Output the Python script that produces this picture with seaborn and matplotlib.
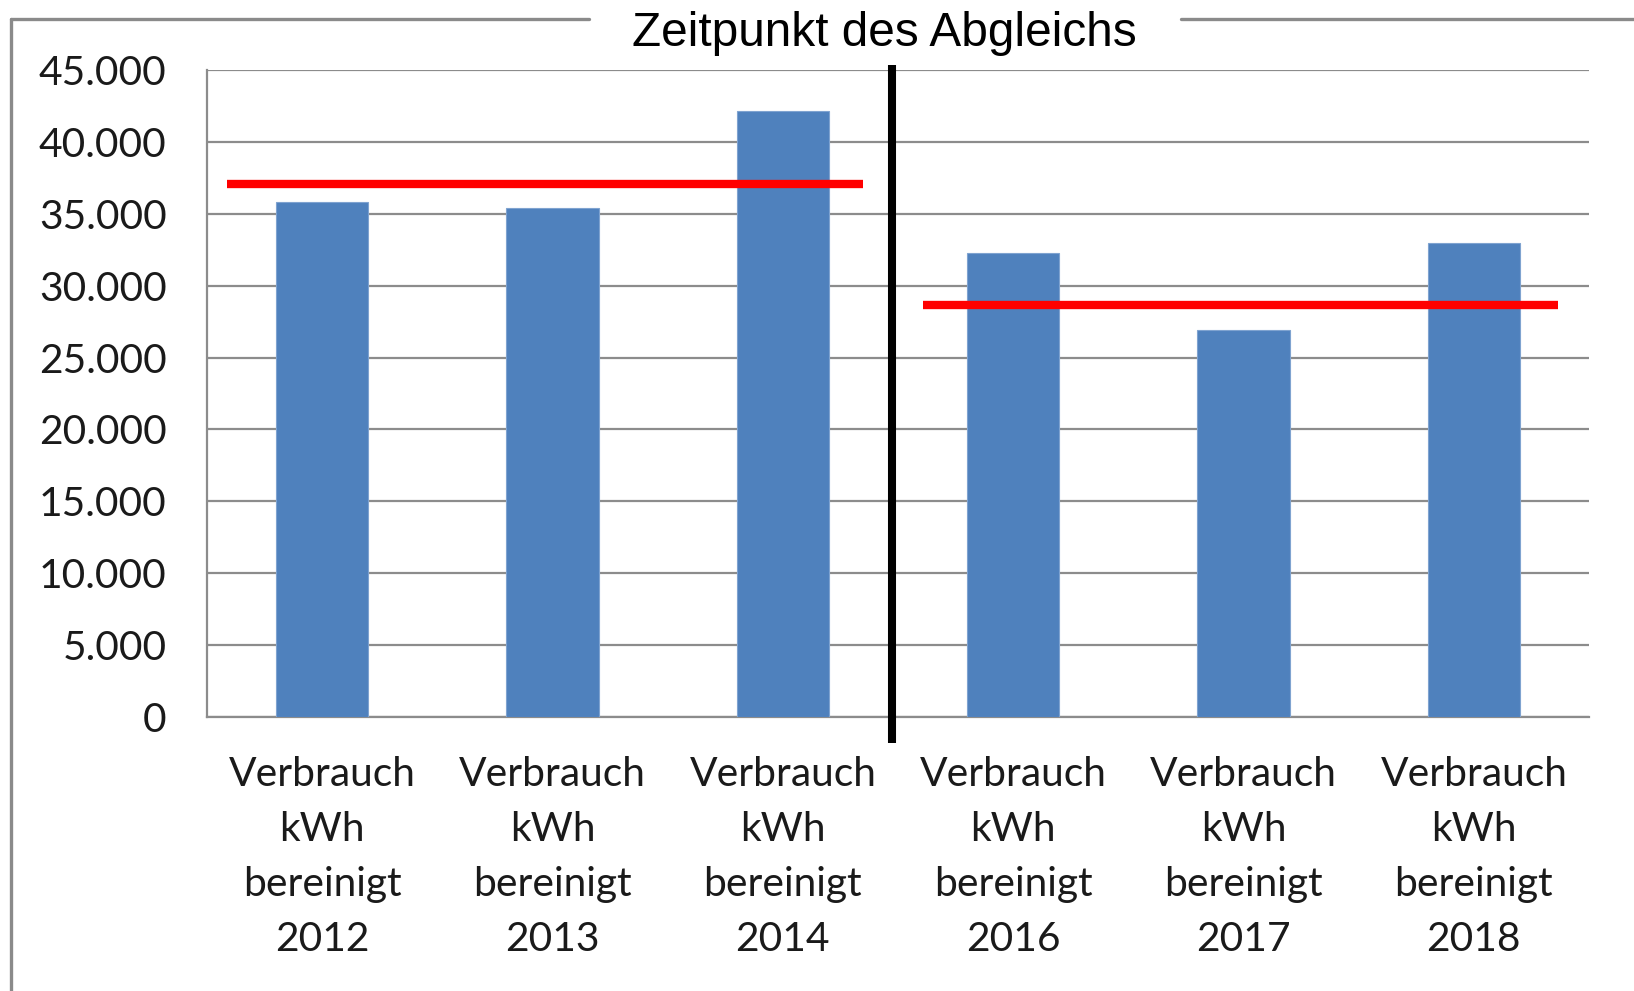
import matplotlib
matplotlib.use("Agg")
import matplotlib.pyplot as plt
import seaborn as sns
import pandas as pd
from matplotlib.lines import Line2D
from matplotlib.ticker import FuncFormatter, FixedLocator

# ---- data ----
years = ["2012", "2013", "2014", "2016", "2017", "2018"]
labels = ["Verbrauch\nkWh\nbereinigt\n" + y for y in years]
consumption = [35800, 35400, 42150, 32300, 26900, 32950]
group_before = [0, 1, 2]          # category indices before the comparison
group_after = [3, 4, 5]           # category indices after the comparison
group_levels = [37100, 28650]     # red reference levels
title = "Zeitpunkt des Abgleichs"
y_ticks = list(range(0, 45001, 5000))

df = pd.DataFrame({"label": labels, "value": consumption})

sns.set_style("white")
plt.rcParams["font.family"] = ["Lato", "DejaVu Sans"]

W, H = 1634, 991
fig = plt.figure(figsize=(W / 100, H / 100), dpi=100)
ax = fig.add_axes([207 / W, 1 - 717 / H, (1589 - 207) / W, (717 - 70) / H])

grey = "#8c8c8c"
sns.barplot(data=df, x="label", y="value", ax=ax, color="#4F81BD",
            width=0.4, saturation=1, edgecolor="#7FA3D0", linewidth=0.8,
            zorder=3)

ax.set_ylim(0, 45000)
ax.set_xlim(-0.5, len(labels) - 0.5)
ax.set_xlabel("")
ax.set_ylabel("")

# gridlines
ax.yaxis.set_major_locator(FixedLocator(y_ticks))
ax.yaxis.set_major_formatter(FuncFormatter(lambda v, p: f"{int(v):,}".replace(",", ".")))
ax.grid(axis="y", color=grey, linewidth=1.6, zorder=0)
ax.set_axisbelow(True)

for s in ["top", "right"]:
    ax.spines[s].set_visible(False)
for s in ["left", "bottom"]:
    ax.spines[s].set_color(grey)
    ax.spines[s].set_linewidth(1.6)

ax.tick_params(axis="y", which="major", direction="out", length=10, width=1.2,
               color=grey, pad=19, labelsize=29.3, labelcolor="#1a1a1a")

# x: ticks at boundaries, labels at centres
n = len(labels)
ax.set_xticks([i - 0.5 for i in range(n + 1)])
ax.set_xticklabels([])
ax.set_xticks(list(range(n)), minor=True)
ax.set_xticklabels(labels, minor=True, fontsize=29.3, color="#1a1a1a",
                   linespacing=1.6)
ax.tick_params(axis="x", which="major", direction="out", length=10, width=1.2,
               color=grey)
ax.tick_params(axis="x", which="minor", length=0, pad=28)

# red reference lines
for grp, lvl in zip([group_before, group_after], group_levels):
    x0 = grp[0] - 0.413 if grp is group_before else grp[0] - 0.39
    x1 = grp[-1] + 0.35 if grp is group_before else grp[-1] + 0.366
    ax.hlines(lvl, x0, x1, color="#FF0000", linewidth=6, zorder=4)

# black separator between groups
sep = (group_before[-1] + group_after[0]) / 2 - 0.026
ax.vlines(sep, -1800, 45350, color="black", linewidth=5.8, zorder=5,
          clip_on=False)

# outer frame with title gap
fc = "#8a8a8a"
fig.add_artist(Line2D([11 / W, 11 / W], [1 - 19 / H, 0], color=fc,
                      linewidth=2.4, transform=fig.transFigure))
fig.add_artist(Line2D([11 / W, 589 / W], [1 - 19 / H, 1 - 19 / H], color=fc,
                      linewidth=2.4, transform=fig.transFigure))
fig.add_artist(Line2D([1181 / W, 1], [1 - 19 / H, 1 - 19 / H], color=fc,
                      linewidth=2.4, transform=fig.transFigure))

fig.text(884 / W, 1 - 33 / H, title, ha="center", va="center", fontsize=34.4,
         family=["Liberation Sans", "DejaVu Sans"], color="black")

fig.savefig("out.png", dpi=100)
